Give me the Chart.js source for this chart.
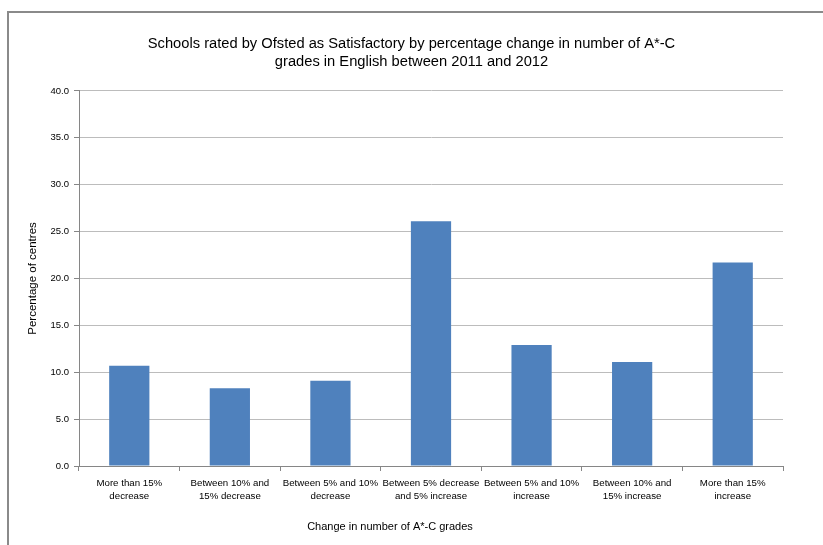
<!DOCTYPE html>
<html>
<head>
<meta charset="utf-8">
<script src="https://cdn.jsdelivr.net/npm/chart.js@4/dist/chart.umd.min.js"></script>
<style>
  html, body { margin: 0; padding: 0; background: #fff; }
  #wrap { position: relative; width: 823px; height: 545px; overflow: hidden; }
  #frame { position: absolute; left: 7px; top: 11px; width: 900px; height: 700px;
           border-left: 2px solid #8a8a8a; border-top: 2px solid #8a8a8a; }
  canvas { position: absolute; left: 0; top: 0; }
</style>
</head>
<body>
<div id="wrap">
  <div id="frame"></div>
  <canvas id="c" width="823" height="545"></canvas>
</div>
<script>
const categories = [
  ["More than 15%", "decrease"],
  ["Between 10% and", "15% decrease"],
  ["Between 5% and 10%", "decrease"],
  ["Between 5% decrease", "and 5% increase"],
  ["Between 5% and 10%", "increase"],
  ["Between 10% and", "15% increase"],
  ["More than 15%", "increase"]
];
const percentages = [10.7, 8.3, 9.1, 26.1, 12.9, 11.1, 21.7];
const titleLines = [
  "Schools rated by Ofsted as Satisfactory by percentage change in number of A*-C",
  "grades in English between 2011 and 2012"
];
const yAxisTitle = "Percentage of centres";
const xAxisTitle = "Change in number of A*-C grades";

const FONT = "'Liberation Sans', Arial, sans-serif";

const xTitlePlugin = {
  id: 'xTitlePlugin',
  afterDraw(chart) {
    const ctx = chart.ctx;
    ctx.save();
    ctx.font = "11px " + FONT;
    ctx.fillStyle = "#000";
    ctx.textAlign = "center";
    ctx.textBaseline = "middle";
    ctx.fillText(xAxisTitle, 390, 527);
    ctx.restore();
  }
};

new Chart(document.getElementById('c'), {
  type: 'bar',
  data: {
    labels: categories,
    datasets: [{
      data: percentages,
      backgroundColor: '#4F81BD',
      borderWidth: 0,
      categoryPercentage: 1.0,
      barPercentage: 0.4
    }]
  },
  options: {
    responsive: false,
    animation: false,
    devicePixelRatio: 1,
    layout: { padding: 0 },
    plugins: {
      legend: { display: false },
      tooltip: { enabled: false },
      title: {
        display: true,
        text: titleLines,
        color: '#000',
        font: { family: FONT, size: 14.7, weight: 'normal', lineHeight: 1.29 },
        padding: { top: 34, bottom: 19 }
      }
    },
    scales: {
      x: {
        grid: {
          display: true,
          offset: true,
          drawOnChartArea: false,
          drawTicks: true,
          tickLength: 5,
          color: '#868686'
        },
        border: { display: true, color: '#868686', width: 1 },
        ticks: {
          color: '#000',
          font: { family: FONT, size: 9.7, lineHeight: 1.35 },
          padding: 6,
          maxRotation: 0,
          minRotation: 0,
          autoSkip: false
        },
        afterFit(scale) { scale.height = 79; }
      },
      y: {
        min: 0,
        max: 40,
        ticks: {
          stepSize: 5,
          color: '#000',
          font: { family: FONT, size: 9.5 },
          padding: 5,
          callback: (v) => Number(v).toFixed(1)
        },
        grid: {
          color: (ctx) => ctx.index === 0 ? '#868686' : '#bcbcbc',
          tickColor: '#868686',
          tickLength: 5,
          drawTicks: true
        },
        border: { display: true, color: '#868686', width: 1 },
        title: {
          display: true,
          text: yAxisTitle,
          color: '#000',
          font: { family: FONT, size: 11.5 },
          padding: { top: 26, bottom: 0 }
        },
        afterFit(scale) { scale.width = 79; }
      },
      ySpacer: {
        position: 'right',
        display: true,
        grid: { display: false, drawTicks: false },
        border: { display: false },
        ticks: { display: false },
        afterFit(scale) { scale.width = 40; }
      }
    }
  },
  plugins: [xTitlePlugin]
});
</script>
</body>
</html>
